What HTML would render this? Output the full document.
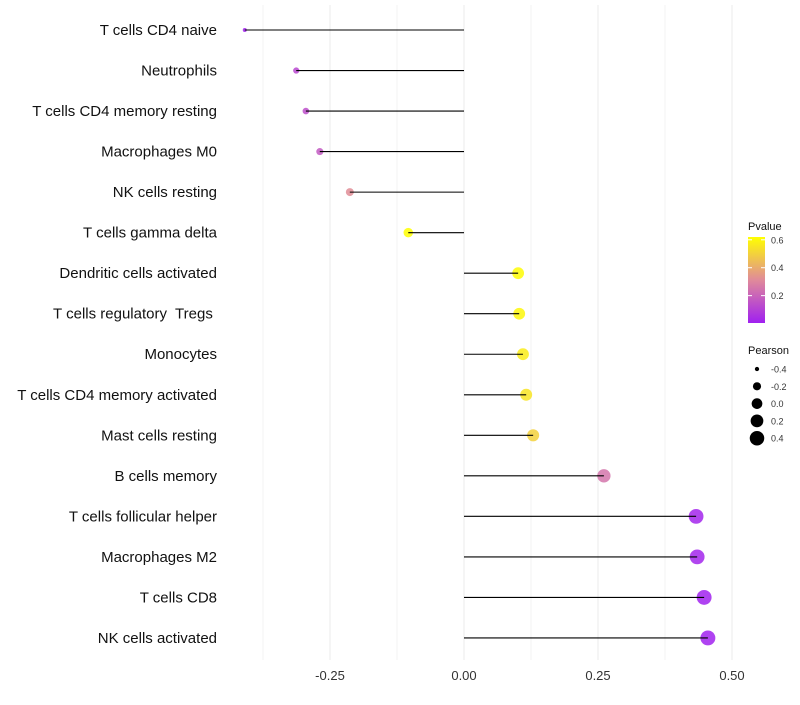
<!DOCTYPE html>
<html><head><meta charset="utf-8"><style>
body{margin:0;background:#fff;font-family:"Liberation Sans",sans-serif}
text{font-family:"Liberation Sans",sans-serif;white-space:pre}
</style></head><body>
<svg id="c" width="800" height="700"></svg>
<script>
const categories=["T cells CD4 naive","Neutrophils","T cells CD4 memory resting","Macrophages M0","NK cells resting","T cells gamma delta","Dendritic cells activated","T cells regulatory  Tregs ","Monocytes","T cells CD4 memory activated","Mast cells resting","B cells memory","T cells follicular helper","Macrophages M2","T cells CD8","NK cells activated"];
const pearson=[-0.409,-0.313,-0.295,-0.269,-0.213,-0.104,0.101,0.103,0.110,0.116,0.129,0.261,0.433,0.435,0.448,0.455];
const pvalue=[0.01,0.12,0.14,0.17,0.32,0.62,0.61,0.60,0.57,0.55,0.50,0.25,0.02,0.02,0.01,0.01];
const xTicks=[-0.25,0,0.25,0.5];
const xTickLabels=["-0.25","0.00","0.25","0.50"];
const pTicks=[0.6,0.4,0.2];
const sizeTicks=[-0.4,-0.2,0,0.2,0.4];
const svg=document.getElementById('c');const NS="http://www.w3.org/2000/svg";
function mk(t,a,p){const e=document.createElementNS(NS,t);for(const k in a)e.setAttribute(k,a[k]);(p||svg).appendChild(e);return e;}
const X=v=>464+v*536;
const Y=i=>30+i*40.53;
const R=v=>Math.sqrt(Math.max(1,28.6+60*v));
const pMin=0.004,pMax=0.62;
function col(p){let t=Math.min(1,Math.max(0,(p-pMin)/(pMax-pMin)));
 const s=[[160,32,240],[224,138,154],[255,255,0]];let a,b,u;
 if(t<0.5){a=s[0];b=s[1];u=t/0.5}else{a=s[1];b=s[2];u=(t-0.5)/0.5}
 return `rgb(${a.map((c,i)=>Math.round(c+(b[i]-c)*u)).join(',')})`;}
for(let v=-0.375;v<=0.5;v+=0.125){const g=mk('line',{x1:X(v),x2:X(v),y1:5,y2:660,stroke:'#ebebeb','stroke-width':Math.abs((v*4)%1)<0.01?1:0.6});}
xTicks.forEach((v,i)=>{const t=mk('text',{x:X(v),y:680,'text-anchor':'middle','font-size':13,fill:'#333'});t.textContent=xTickLabels[i];});
categories.forEach((c,i)=>{const t=mk('text',{x:217,y:Y(i)+5,'text-anchor':'end','font-size':15,fill:'#111'});t.textContent=c;
 const d=mk('circle',{cx:X(pearson[i]),cy:Y(i),r:R(pearson[i]),fill:col(pvalue[i]),'fill-opacity':0.85});
 const l=mk('line',{x1:X(0),x2:X(pearson[i]),y1:Y(i),y2:Y(i),stroke:'#000','stroke-width':1.1});});
let t=mk('text',{x:748,y:230,'font-size':11,fill:'#111'});t.textContent='Pvalue';
const defs=mk('defs',{});const lg=mk('linearGradient',{id:'gr',x1:0,y1:1,x2:0,y2:0},defs);
[[0,'rgb(160,32,240)'],[0.5,'rgb(224,138,154)'],[1,'rgb(255,255,0)']].forEach(s=>mk('stop',{offset:s[0],'stop-color':s[1]},lg));
const LY=p=>323-(p-pMin)/(pMax-pMin)*(323-237);
const bar=mk('rect',{x:748,y:237,width:17,height:86,fill:'url(#gr)'});
pTicks.forEach(p=>{mk('line',{x1:748,x2:752,y1:LY(p),y2:LY(p),stroke:'#fff'});mk('line',{x1:761,x2:765,y1:LY(p),y2:LY(p),stroke:'#fff'});const q=mk('text',{x:771,y:LY(p)+3.5,'font-size':9,fill:'#333'});q.textContent=p.toFixed(1);});
t=mk('text',{x:748,y:354,'font-size':11,fill:'#111'});t.textContent='Pearson';
sizeTicks.forEach((v,i)=>{const y=369+i*17.3;const c=mk('circle',{cx:757,cy:y,r:R(v),fill:'#000'});const q=mk('text',{x:771,y:y+3.5,'font-size':9,fill:'#333'});q.textContent=v.toFixed(1);});
</script></body></html>
